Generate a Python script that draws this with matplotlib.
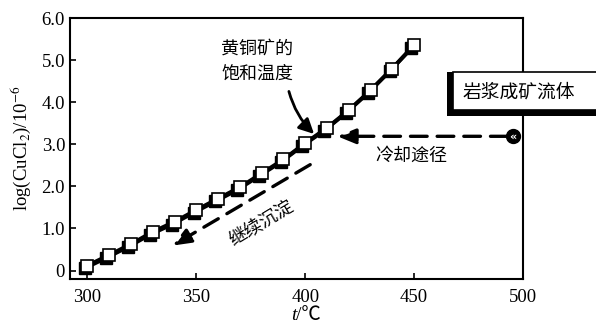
import numpy as np
import matplotlib
matplotlib.use("Agg")
import matplotlib.pyplot as plt
import matplotlib.transforms as mtransforms
from matplotlib.patches import Rectangle

# data
temps = [300, 310, 320, 330, 340, 350, 360, 370, 380, 390, 400, 410, 420, 430, 440, 450]
log_cucl2 = [0.12, 0.37, 0.63, 0.92, 1.16, 1.44, 1.71, 1.98, 2.31, 2.64,
             3.03, 3.39, 3.81, 4.28, 4.80, 5.35]
xticks = [300, 350, 400, 450, 500]
yticks = [0, 1, 2, 3, 4, 5, 6]
ytick_labels = ["0", "1.0", "2.0", "3.0", "4.0", "5.0", "6.0"]

plt.rcParams['font.family'] = ['Liberation Serif', 'Noto Sans CJK SC', 'DejaVu Sans']
plt.rcParams['mathtext.fontset'] = 'stix'
cjk = ['Noto Sans CJK SC', 'DejaVu Sans']

fig = plt.figure(figsize=(5.96, 3.25), dpi=100)
ax = fig.add_axes([0.1174, 0.1415, 0.7601, 0.8031])

# shadow under line and markers (offset down-left)
shadow = mtransforms.offset_copy(ax.transData, fig=fig, x=-2, y=-2, units='points')
ax.plot(temps, log_cucl2, color='black', lw=2.8, transform=shadow, zorder=3)
ax.plot(temps, log_cucl2, 's', color='black', ms=9, transform=shadow, zorder=4)
ax.plot(temps, log_cucl2, color='black', lw=2.8, zorder=5)
ax.plot(temps, log_cucl2, 's', mfc='white', mec='black', mew=1.2, ms=9, zorder=6)

ax.set_xlim(292, 500)
ax.set_ylim(-0.2, 6.0)
ax.set_xticks(xticks)
ax.set_yticks(yticks)
ax.set_yticklabels(ytick_labels)
ax.tick_params(direction='in', length=4, width=1.2, labelsize=13.5)
ax.tick_params(axis='x', pad=7)
for s in ax.spines.values():
    s.set_linewidth(1.5)

ax.set_ylabel("log(CuCl$_2$)/10$^{-6}$", fontsize=13.5, labelpad=6)
# x label: italic t followed by /℃
W, H = 596.0, 325.0
xc = 0.1174 + 0.7601 / 2
fig.text(xc, 5 / H, "t", fontsize=14, style='italic', ha='right', va='baseline')
fig.text(xc, 5 / H, "/℃", fontsize=14,
         family=['Liberation Serif', 'Noto Sans CJK SC'], ha='left', va='baseline')

# saturation label and curved arrow
ax.text(378, 4.97, "黄铜矿的\n饱和温度", family=cjk, fontsize=13,
        ha='center', va='center', linespacing=1.55)
ax.annotate("", xy=(405, 3.2), xytext=(392.2, 4.32),
            arrowprops=dict(arrowstyle='-|>,head_length=0.9,head_width=0.45',
                            color='black', lw=2.0,
                            connectionstyle='arc3,rad=0.15'), zorder=7)

# cooling path
ax.annotate("", xy=(413.5, 3.19), xytext=(494, 3.19),
            arrowprops=dict(arrowstyle='-|>,head_length=1.1,head_width=0.45',
                            color='black', lw=2.4, linestyle=(0, (5, 3))), zorder=7)
ax.plot([495.5], [3.19], 'o', color='black', ms=10, clip_on=False, zorder=8)
ax.text(495.5, 3.19, "«", color='white', fontsize=8, fontweight='bold',
        ha='center', va='center', family='DejaVu Sans', zorder=9)
ax.text(448.7, 2.72, "冷却途径", family=cjk, fontsize=13, ha='center', va='center')

# further precipitation
ax.annotate("", xy=(338, 0.56), xytext=(403.4, 2.55),
            arrowprops=dict(arrowstyle='-|>,head_length=1.1,head_width=0.45',
                            color='black', lw=2.4, linestyle=(0, (5, 3))), zorder=7)
ax.text(380, 1.12, "继续沉淀", family=cjk, fontsize=13, ha='center', va='center',
        rotation=31, rotation_mode='anchor')

# boxed label on the right edge with shadow
fig.patches.append(Rectangle((447 / W, 1 - 116 / H), 160 / W, 44 / H,
                             transform=fig.transFigure, facecolor='black',
                             edgecolor='none', zorder=10))
fig.patches.append(Rectangle((453 / W, 1 - 110 / H), 160 / W, 38 / H,
                             transform=fig.transFigure, facecolor='white',
                             edgecolor='black', lw=1.2, zorder=11))
fig.text(519 / W, 1 - 92 / H, "岩浆成矿流体", family=cjk, fontsize=13.5,
         ha='center', va='center', zorder=12)

fig.savefig("out.png", dpi=100)
